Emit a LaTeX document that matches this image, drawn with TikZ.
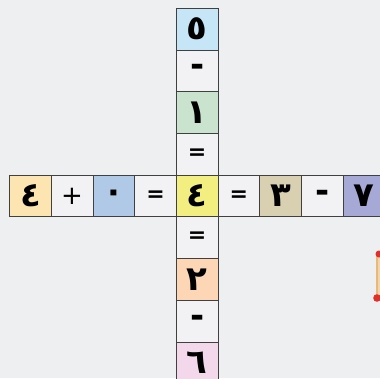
\documentclass[tikz,border=0pt]{standalone}
\usepackage{fontspec}
\newfontfamily\arfont[Script=Arabic]{DejaVu Sans}
\definecolor{bg}{HTML}{EEEFF1}
\definecolor{plain}{HTML}{F2F2F4}
\definecolor{cOrange}{HTML}{FDE5B2}
\definecolor{cBlue}{HTML}{AFC9E7}
\definecolor{cYellow}{HTML}{F2EE80}
\definecolor{cKhaki}{HTML}{D8D0B0}
\definecolor{cLav}{HTML}{A6A9D6}
\definecolor{cSky}{HTML}{C6E6F8}
\definecolor{cGreen}{HTML}{C9E3CF}
\definecolor{cPeach}{HTML}{FDD6B6}
\definecolor{cPink}{HTML}{F2D8EA}
\definecolor{pencil}{HTML}{E9B97A}
\definecolor{pencilred}{HTML}{E0302A}
\begin{document}
\begin{tikzpicture}[x=1pt,y=-1pt,
  cell/.style={draw=black!75, line width=0.7pt, minimum size=41.7pt, inner sep=0pt,
    anchor=north west, fill=plain, font=\arfont\bfseries\fontsize{34}{34}\selectfont},
  minus/.style={cell, font=\arfont\bfseries\fontsize{34}{34}\selectfont},
  equal/.style={cell, font=\arfont\bfseries\fontsize{22}{22}\selectfont},
  plus/.style={cell, font=\arfont\fontsize{26}{26}\selectfont}]
\useasboundingbox (0,0) rectangle (380,378);
\clip (0,0) rectangle (380,378);
\fill[bg] (0,0) rectangle (380,378);
% horizontal row
\node[cell, fill=cOrange] (h1) at (9.2,174.7) {٤};
\node[plus] (h2) at (50.9,174.7) {+};
\node[cell, fill=cBlue] (h3) at (92.6,174.7) {٠};
\node[equal] (h4) at (134.3,174.7) {=};
\node[equal] (h6) at (217.7,174.7) {=};
\node[cell, fill=cKhaki] (h7) at (259.4,174.7) {٣};
\node[minus] (h8) at (301.1,174.7) {-};
\node[cell, fill=cLav] (h9) at (342.8,174.7) {٧};
% vertical column
\node[cell, fill=cSky] (v1) at (176,7.9) {٥};
\node[minus] (v2) at (176,49.6) {-};
\node[cell, fill=cGreen] (v3) at (176,91.3) {١};
\node[equal] (v4) at (176,133) {=};
\node[cell, fill=cYellow] (c) at (176,174.7) {٤};
\node[equal] (v6) at (176,216.4) {=};
\node[cell, fill=cPeach] (v7) at (176,258.1) {٢};
\node[minus] (v8) at (176,299.8) {-};
\node[cell, fill=cPink] (v9) at (176,341.5) {٦};
% partial pencil on the right
\fill[pencil] (375.5,252) rectangle (382,298);
\fill[pencil!60!white] (377.5,254) rectangle (382,296);
\fill[pencilred] (379,254) circle (3.5);
\fill[pencilred] (377,298) circle (3.8);
\end{tikzpicture}
\end{document}
